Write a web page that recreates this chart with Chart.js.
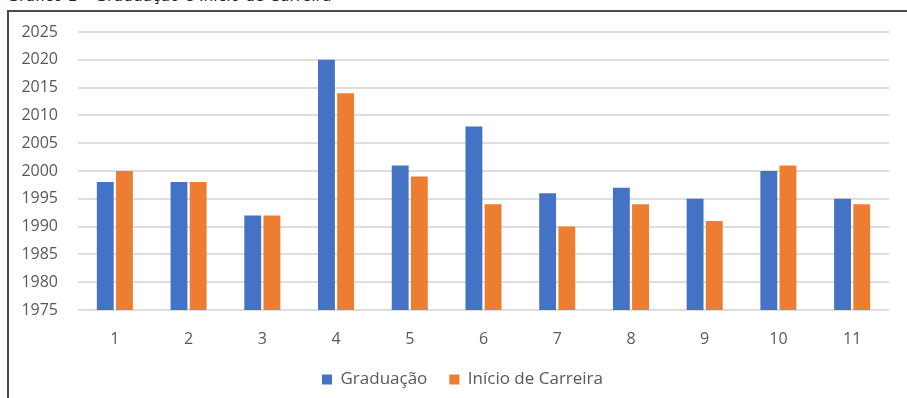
<!DOCTYPE html>
<html>
<head>
<meta charset="utf-8">
<script src="https://cdn.jsdelivr.net/npm/chart.js@4"></script>
<style>
  html, body { margin: 0; padding: 0; background: #fff; overflow: hidden; }
  #wrap { position: relative; width: 907px; height: 398px; }
  #caption {
    position: absolute; left: 7px; top: -11px;
    font-family: "DejaVu Sans", sans-serif; font-size: 15.5px; line-height: 15.5px;
    color: #222; white-space: nowrap;
  }
  #frame {
    position: absolute; left: 7px; top: 10px; right: 0; bottom: 0;
    border-left: 2px solid #4a4a4a; border-top: 2px solid #4a4a4a;
  }
  #chart { position: absolute; left: 0; top: 0; }
</style>
</head>
<body>
<div id="wrap">
  <div id="caption">Gráfico 1 – Graduação e Início de Carreira</div>
  <div id="frame"></div>
  <canvas id="chart" width="907" height="398"></canvas>
</div>
<script>
const categories = ["1", "2", "3", "4", "5", "6", "7", "8", "9", "10", "11"];
const graduacao = [1998, 1998, 1992, 2020, 2001, 2008, 1996, 1997, 1995, 2000, 1995];
const inicioCarreira = [2000, 1998, 1992, 2014, 1999, 1994, 1990, 1994, 1991, 2001, 1994];

const textColor = "#595959";
const fontFamily = "'Open Sans', sans-serif";

// nudge the legend so it sits centred under the frame, not the canvas
const legendShift = {
  id: "legendShift",
  afterLayout(chart) {
    chart.legend.left += 36;
  },
};

const ctx = document.getElementById("chart").getContext("2d");
const chart = new Chart(ctx, {
  type: "bar",
  data: {
    labels: categories,
    datasets: [
      {
        label: "Graduação",
        data: graduacao,
        backgroundColor: "#4472c4",
        categoryPercentage: 0.52,
        barPercentage: 0.88,
      },
      {
        label: "Início de Carreira",
        data: inicioCarreira,
        backgroundColor: "#ed7d31",
        categoryPercentage: 0.52,
        barPercentage: 0.88,
      },
    ],
  },
  options: {
    responsive: false,
    animation: false,
    layout: {
      padding: { left: 0, right: 18, top: 32, bottom: 0 },
    },
    plugins: {
      tooltip: { enabled: false },
      legend: {
        position: "bottom",
        labels: {
          boxWidth: 10,
          boxHeight: 10,
          padding: 22,
          color: textColor,
          font: { family: fontFamily, size: 17 },
        },
      },
    },
    scales: {
      x: {
        grid: { display: false },
        border: { display: false },
        ticks: {
          color: textColor,
          padding: 12,
          font: { family: fontFamily, size: 16 },
        },
        afterFit: (scale) => {
          scale.height = 39;
        },
      },
      y: {
        min: 1975,
        max: 2025,
        border: { display: false },
        grid: { color: "#dedede", lineWidth: 2, drawTicks: false },
        ticks: {
          stepSize: 5,
          color: textColor,
          padding: 20,
          font: { family: fontFamily, size: 16 },
          callback: (value) => String(value),
        },
        afterFit: (scale) => {
          scale.width = 78;
        },
      },
    },
  },
  plugins: [legendShift],
});
</script>
</body>
</html>
